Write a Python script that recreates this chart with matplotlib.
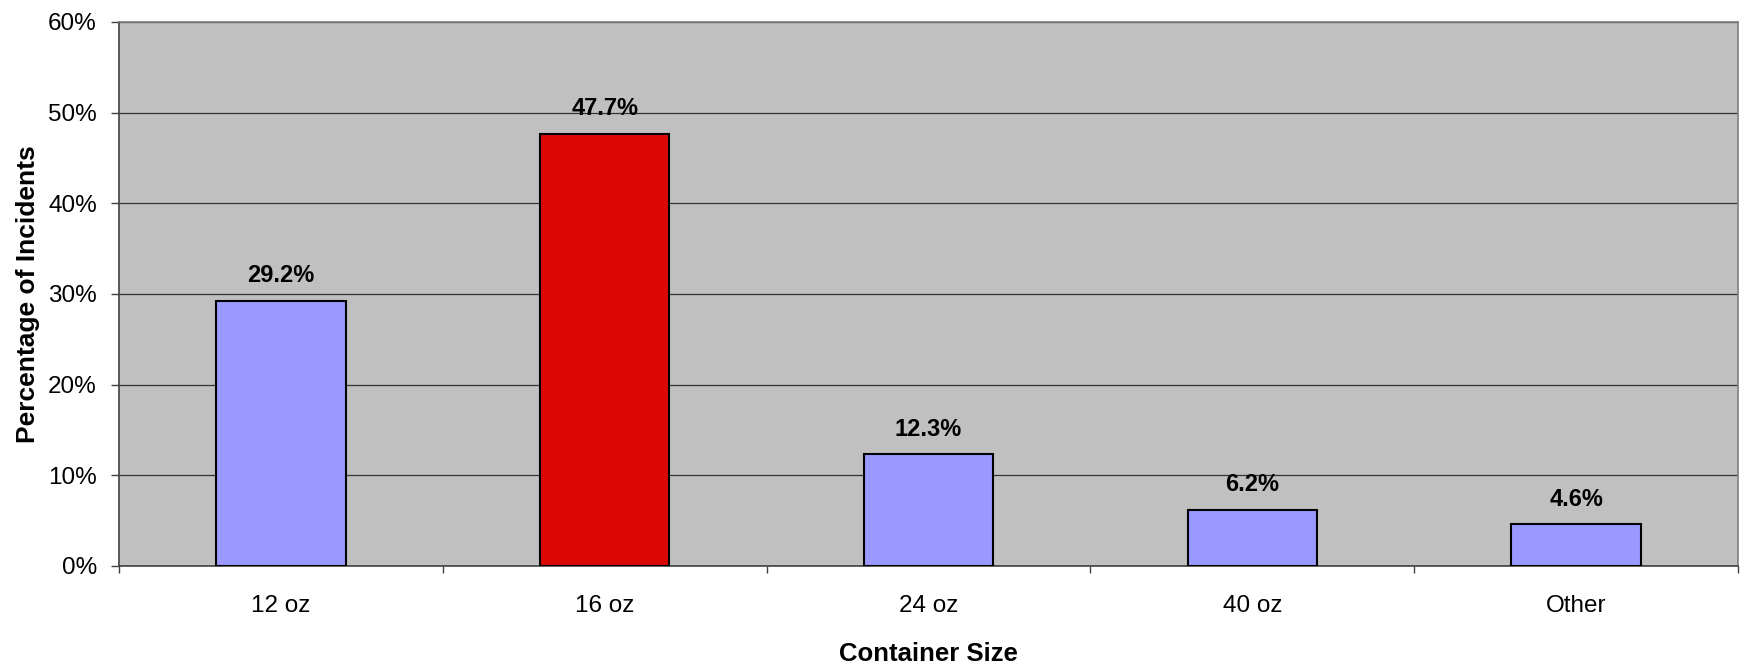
import matplotlib.pyplot as plt

plt.rcParams['font.family'] = ['Liberation Sans', 'DejaVu Sans']

# data
sizes = ["12 oz", "16 oz", "24 oz", "40 oz", "Other"]
pct = [29.2, 47.7, 12.3, 6.2, 4.6]
bar_colors = ["#9999FF", "#DD0806", "#9999FF", "#9999FF", "#9999FF"]
yticks = [0, 10, 20, 30, 40, 50, 60]

fig = plt.figure(figsize=(17.45, 6.64), dpi=100)
ax = fig.add_axes([0.0682, 0.1476, 0.9278, 0.8193])
ax.set_facecolor("#C0C0C0")

x = range(len(sizes))
ax.bar(x, pct, width=0.4, color=bar_colors, edgecolor="black", linewidth=1.5, zorder=3)

# value labels over bars
for i, v in enumerate(pct):
    ax.annotate(f"{v:.1f}%", (i, v), xytext=(0, 13.5), textcoords="offset points",
                ha="center", va="baseline", fontsize=17, fontweight="bold")

ax.set_xlim(-0.5, len(sizes) - 0.5)
ax.set_ylim(0, 60)
ax.set_yticks(yticks)
ax.set_yticklabels([f"{t}%" for t in yticks])
ax.yaxis.grid(True, color="#333333", linewidth=0.9, zorder=1)
ax.set_axisbelow(True)

# category labels at centres, tick marks between categories
ax.set_xticks(list(x))
ax.set_xticklabels(sizes)
ax.set_xticks([i - 0.5 for i in range(len(sizes) + 1)], minor=True)
ax.tick_params(axis="x", which="major", length=0, pad=21, labelsize=17.5)
ax.tick_params(axis="x", which="minor", length=5, width=1, color="#404040")
ax.tick_params(axis="y", length=6, width=1, color="#404040", pad=10, labelsize=17.5)

for s in ["left", "bottom"]:
    ax.spines[s].set_color("#404040")
    ax.spines[s].set_linewidth(1.2)
for s in ["top", "right"]:
    ax.spines[s].set_color("#808080")
    ax.spines[s].set_linewidth(1.2)

ax.set_xlabel("Container Size", fontsize=18.5, fontweight="bold", labelpad=18)
ax.set_ylabel("Percentage of Incidents", fontsize=19, fontweight="bold", labelpad=6)

fig.savefig("out.png", dpi=100)
